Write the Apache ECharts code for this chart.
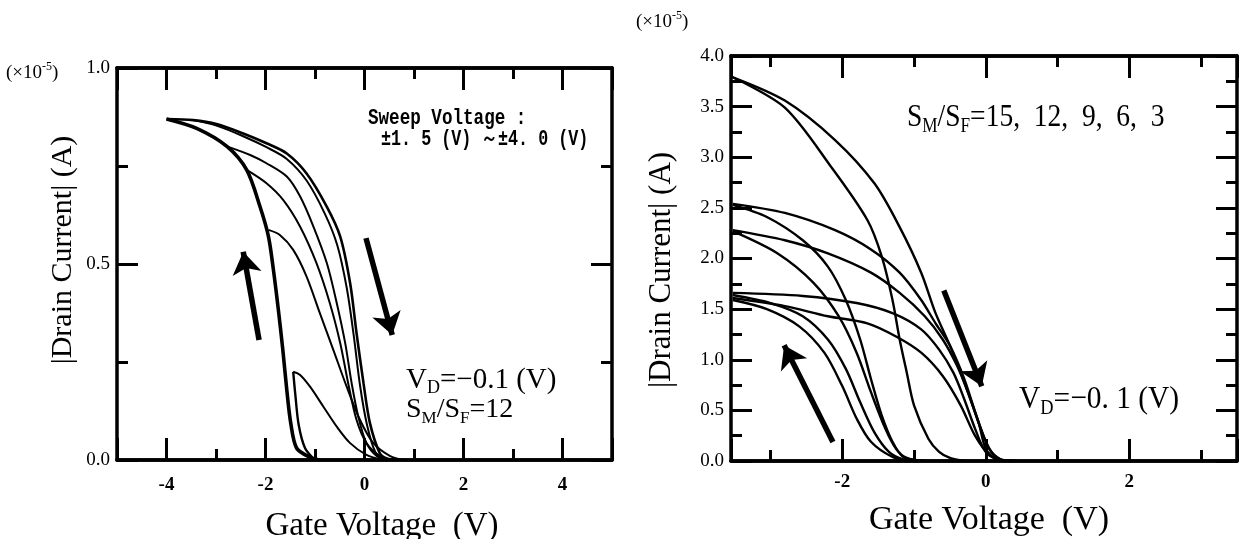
<!DOCTYPE html>
<html><head><meta charset="utf-8">
<script src="https://cdn.jsdelivr.net/npm/echarts/dist/echarts.min.js"></script>
<style>html,body{margin:0;padding:0;background:#fff}#c{width:1245px;height:539px}</style>
</head><body><div id="c"></div>
<script>
// ---------- LEFT PANEL: S_M/S_F = 12, sweep ±1.5 … ±4.0 V (units 1e-5 A) ----------
const leftXTicks = [-4, -2, 0, 2, 4];
const leftCommonBranch = [[-4.0,0.87],[-3.39,0.846],[-2.78,0.80],[-2.38,0.74],[-2.11,0.646],[-1.94,0.57],[-1.84,0.485],[-1.74,0.383],[-1.65,0.281],[-1.57,0.179],[-1.49,0.094],[-1.37,0.03],[-1.10,0.007],[-0.9,0]];
const leftSweep40 = [[-4.0,0.87],[-3.46,0.867],[-2.99,0.857],[-2.45,0.833],[-1.98,0.808],[-1.57,0.782],[-1.17,0.731],[-0.76,0.646],[-0.49,0.57],[-0.29,0.451],[-0.16,0.323],[-0.02,0.196],[0.11,0.094],[0.31,0.017],[0.45,0.004],[0.7,0]];
const leftSweep35 = [[-3.46,0.867],[-2.99,0.853],[-2.45,0.826],[-1.98,0.798],[-1.57,0.768],[-1.17,0.713],[-0.8,0.628],[-0.55,0.548],[-0.36,0.44],[-0.22,0.32],[-0.09,0.19],[0.05,0.09],[0.22,0.02],[0.4,0.003],[0.6,0]];
const leftSweep30 = [[-2.78,0.80],[-2.31,0.778],[-1.98,0.757],[-1.57,0.723],[-1.30,0.672],[-1.03,0.595],[-0.76,0.502],[-0.56,0.40],[-0.39,0.298],[-0.26,0.196],[-0.125,0.11],[0.04,0.043],[0.25,0.01],[0.5,0]];
const leftSweep25 = [[-2.38,0.74],[-1.98,0.706],[-1.64,0.663],[-1.30,0.595],[-0.97,0.502],[-0.70,0.40],[-0.49,0.298],[-0.33,0.196],[-0.16,0.102],[0.04,0.043],[0.31,0.01],[0.55,0]];
const leftSweep20 = [[-1.94,0.587],[-1.71,0.574],[-1.44,0.536],[-1.17,0.468],[-0.90,0.374],[-0.63,0.281],[-0.36,0.187],[-0.09,0.102],[0.18,0.043],[0.52,0.01],[0.8,0]];
const leftSweep15 = [[-1.44,0.225],[-1.30,0.217],[-1.10,0.187],[-0.83,0.136],[-0.56,0.085],[-0.29,0.043],[0.04,0.013],[0.38,0]];
const leftSweep15Back = [[-1.44,0.225],[-1.40,0.17],[-1.33,0.09],[-1.2,0.03],[-1.0,0]];
const leftArrows = [ [[-2.13,0.306],[-2.45,0.531]], [[0.03,0.566],[0.56,0.319]] ];

// ---------- RIGHT PANEL: S_M/S_F = 15, 12, 9, 6, 3 ----------
const rightXTicks = [-2, 0, 2];
const right15Fwd = [[-3.525,3.79],[-2.8,3.56],[-2.1,3.17],[-1.55,2.74],[-1.2,2.31],[-0.9,1.86],[-0.7,1.46],[-0.5,1.14],[-0.3,0.78],[-0.1,0.38],[0.05,0.12],[0.2,0.02],[0.4,0]];
const right15Back = [[-3.525,3.79],[-2.8,3.49],[-2.15,2.90],[-1.65,2.38],[-1.45,2.02],[-1.3,1.59],[-1.2,1.20],[-1.1,0.87],[-1.0,0.55],[-0.8,0.22],[-0.65,0.09],[-0.5,0.03],[-0.3,0]];
const right12Fwd = [[-3.525,2.54],[-2.8,2.45],[-2.1,2.28],[-1.6,2.09],[-1.2,1.86],[-0.9,1.59],[-0.7,1.36],[-0.5,1.14],[-0.3,0.81],[-0.1,0.38],[0.05,0.12],[0.2,0.016],[0.4,0]];
const right12Back = [[-3.525,2.53],[-3.05,2.41],[-2.55,2.18],[-2.2,1.92],[-1.95,1.59],[-1.75,1.20],[-1.6,0.81],[-1.45,0.45],[-1.3,0.19],[-1.15,0.04],[-0.9,0]];
const right9Fwd = [[-3.525,2.28],[-2.8,2.18],[-2.2,2.05],[-1.6,1.86],[-1.2,1.66],[-0.85,1.43],[-0.6,1.20],[-0.4,0.94],[-0.25,0.68],[-0.1,0.38],[0,0.12],[0.15,0.016],[0.35,0]];
const right9Back = [[-3.525,2.27],[-2.9,2.05],[-2.4,1.76],[-2.05,1.43],[-1.8,1.07],[-1.6,0.68],[-1.4,0.32],[-1.25,0.12],[-1.1,0.03],[-0.85,0]];
const right6Fwd = [[-3.525,1.66],[-2.55,1.63],[-1.8,1.56],[-1.3,1.46],[-0.9,1.30],[-0.65,1.10],[-0.45,0.87],[-0.3,0.61],[-0.15,0.32],[0,0.09],[0.2,0.01],[0.4,0]];
const right6Back = [[-3.525,1.64],[-3.0,1.56],[-2.55,1.43],[-2.2,1.20],[-1.95,0.91],[-1.75,0.58],[-1.55,0.28],[-1.35,0.09],[-1.15,0.016],[-0.95,0]];
const right3Fwd = [[-3.525,1.61],[-2.8,1.53],[-2.2,1.43],[-1.65,1.36],[-1.25,1.23],[-0.9,1.07],[-0.6,0.84],[-0.35,0.55],[-0.15,0.25],[0.05,0.06],[0.25,0]];
const right3Back = [[-3.525,1.59],[-3.05,1.50],[-2.6,1.33],[-2.25,1.07],[-2.0,0.74],[-1.8,0.42],[-1.6,0.19],[-1.3,0.04],[-1.05,0]];
const rightArrows = [ [[-2.13,0.187],[-2.81,1.143]], [[-0.585,1.685],[-0.056,0.739]] ];

// ---------- build ----------
const SERIF = '"Liberation Serif","Times New Roman",serif';
const MONO = '"Liberation Mono","Courier New",monospace';
const BLACK = '#000';
const TICKFONT = 19;
function xAx(grid, pos, min, max, opt) {
  return Object.assign({
    type: 'value', gridIndex: grid, position: pos, min: min, max: max,
    axisLine: { show: true, onZero: false, lineStyle: { color: BLACK, width: 3.5 } },
    axisTick: { show: true, inside: true, length: 11, lineStyle: { color: BLACK, width: 3 } },
    axisLabel: { show: false },
    splitLine: { show: false }
  }, opt);
}
function yAx(grid, pos, min, max, interval, showLabel) {
  return {
    type: 'value', gridIndex: grid, position: pos, min: min, max: max, interval: interval,
    axisLine: { show: true, onZero: false, lineStyle: { color: BLACK, width: 3.5 } },
    axisTick: { show: true, inside: true, length: 21, lineStyle: { color: BLACK, width: 3 } },
    minorTick: { show: true, splitNumber: 2, length: 11, lineStyle: { color: BLACK, width: 3 } },
    axisLabel: { show: showLabel, margin: 7, color: BLACK, fontFamily: SERIF, fontSize: TICKFONT,
      formatter: v => v.toFixed(1) },
    splitLine: { show: false }, minorSplitLine: { show: false }
  };
}
function evenLabel(ticks) {
  return v => ticks.some(t => Math.abs(t - v) < 1e-6) ? String(Math.round(v)) : '';
}
const longTick = { show: true, inside: true, length: 22, lineStyle: { color: BLACK, width: 3 } };
const xLabel = (ticks, m) => ({ show: true, margin: m, color: BLACK, fontFamily: SERIF, fontSize: TICKFONT, fontWeight: 'bold',
  formatter: evenLabel(ticks), showMinLabel: false, showMaxLabel: false });
const xAxes = [
  // left grid
  xAx(0, 'bottom', -5, 5, { interval: 1, axisLabel: xLabel(leftXTicks, 16) }),
  xAx(0, 'bottom', -5, 5, { splitNumber: 5, axisTick: longTick }),
  xAx(0, 'top', -5, 5, { interval: 1 }),
  xAx(0, 'top', -5, 5, { splitNumber: 5, axisTick: longTick }),
  // right grid
  xAx(1, 'bottom', -3.55, 3.5, { splitNumber: 7, axisLabel: xLabel(rightXTicks, 12) }),
  xAx(1, 'bottom', -3.55, 3.5, { splitNumber: 3, axisTick: longTick }),
  xAx(1, 'top', -3.55, 3.5, { splitNumber: 7 }),
  xAx(1, 'top', -3.55, 3.5, { splitNumber: 3, axisTick: longTick })
];
const yAxes = [
  yAx(0, 'left', 0, 1.0, 0.5, true),
  yAx(0, 'right', 0, 1.0, 0.5, false),
  yAx(1, 'left', 0, 4.0, 0.5, true),
  yAx(1, 'right', 0, 4.0, 0.5, false)
];

function curve(data, xi, yi, w) {
  return { type: 'line', xAxisIndex: xi, yAxisIndex: yi, data: data, smooth: 0.3,
    showSymbol: false, silent: true, lineStyle: { color: BLACK, width: w } };
}
function arrows(list, xi, yi) {
  return { type: 'lines', coordinateSystem: 'cartesian2d', xAxisIndex: xi, yAxisIndex: yi,
    symbol: ['none', 'arrow'], symbolSize: [14, 22], silent: true,
    lineStyle: { color: BLACK, width: 5.5, opacity: 1 },
    data: list.map(c => ({ coords: c })) };
}
const series = [
  curve(leftCommonBranch, 0, 0, 3.6),
  curve(leftSweep40, 0, 0, 2.6),
  curve(leftSweep35, 0, 0, 2),
  curve(leftSweep30, 0, 0, 2),
  curve(leftSweep25, 0, 0, 2),
  curve(leftSweep20, 0, 0, 2),
  curve(leftSweep15, 0, 0, 2),
  curve(leftSweep15Back, 0, 0, 2.4),
  arrows(leftArrows, 0, 0),
  curve(right15Fwd, 4, 2, 2.4), curve(right15Back, 4, 2, 2.4),
  curve(right12Fwd, 4, 2, 2.4), curve(right12Back, 4, 2, 2.4),
  curve(right9Fwd, 4, 2, 2.4), curve(right9Back, 4, 2, 2.4),
  curve(right6Fwd, 4, 2, 2.4), curve(right6Back, 4, 2, 2.4),
  curve(right3Fwd, 4, 2, 2.4), curve(right3Back, 4, 2, 2.4),
  arrows(rightArrows, 4, 2)
];

function txt(x, y, text, size, opt) {
  opt = opt || {};
  const st = Object.assign({ text: text, fill: BLACK, font: size + 'px ' + SERIF,
    align: 'left', verticalAlign: 'middle' }, opt.style || {});
  const el = Object.assign({ type: 'text', x: x, y: y, silent: true }, opt);
  el.style = st;
  return el;
}
const subRich = (size) => ({
  n: { fontSize: size, fontFamily: SERIF, lineHeight: size + 6 },
  s: { fontSize: Math.round(size * 0.62), fontFamily: SERIF, lineHeight: Math.round(size * 0.62) + 2, verticalAlign: 'bottom' }
});
const supRich = { n: { fontSize: 19, fontFamily: SERIF, lineHeight: 24 }, p: { fontSize: 12, fontFamily: SERIF, lineHeight: 14, verticalAlign: 'top' } };
const graphic = [
  txt(6, 73, '{n|(×10}{p|-5}{n|)}', 19, { style: { rich: supRich } }),
  txt(636, 22, '{n|(×10}{p|-5}{n|)}', 19, { style: { rich: supRich } }),
  // axis titles
  txt(382, 526, 'Gate Voltage  (V)', 33, { style: { align: 'center' } }),
  txt(989, 520, 'Gate Voltage  (V)', 34, { style: { align: 'center' } }),
  txt(63, 250, '|Drain Current| (A)', 30, { rotation: Math.PI / 2, style: { align: 'center' } }),
  txt(662, 270, '|Drain Current| (A)', 31, { rotation: Math.PI / 2, style: { align: 'center' } }),
  // left annotations
  txt(368, 118, 'Sweep Voltage :', 22, { scaleX: 0.8, style: { font: '600 22px ' + MONO } }),
  txt(381, 139, '±1. 5 (V) ～±4. 0 (V)', 22, { scaleX: 0.76, style: { font: '600 22px ' + MONO } }),
  txt(406, 380, '{n|V}{s|D}{n|=−0.1 (V)}', 29, { style: { rich: subRich(29) } }),
  txt(406, 410, '{n|S}{s|M}{n|/S}{s|F}{n|=12}', 28, { style: { rich: subRich(28) } }),
  // right annotations
  txt(907, 118, '{n|S}{s|M}{n|/S}{s|F}{n|=15,  12,  9,  6,  3}', 32, { scaleX: 0.86, style: { rich: subRich(32) } }),
  txt(1019, 400, '{n|V}{s|D}{n|=−0. 1 (V)}', 32, { scaleX: 0.92, style: { rich: subRich(32) } })
];

const chart = echarts.init(document.getElementById('c'), null, { renderer: 'canvas' });
chart.setOption({
  backgroundColor: '#fff',
  animation: false,
  grid: [
    { left: 117, top: 68, width: 495, height: 392 },
    { left: 731, top: 56, width: 506, height: 405 }
  ],
  xAxis: xAxes,
  yAxis: yAxes,
  series: series,
  graphic: graphic
});
</script>
</body></html>
